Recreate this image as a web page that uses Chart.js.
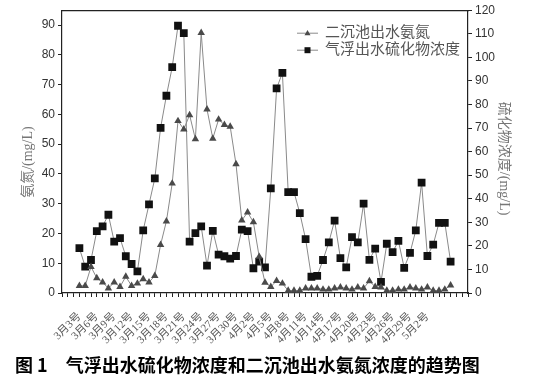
<!DOCTYPE html>
<html><head><meta charset="utf-8">
<script src="https://cdn.jsdelivr.net/npm/chart.js@4/dist/chart.umd.min.js"></script>
<style>
html,body{margin:0;padding:0;background:#fff;}
#wrap{position:relative;width:539px;height:381px;overflow:hidden;}
#c{position:absolute;left:0;top:0;}
#cap{position:absolute;left:15px;top:352px;font:bold 18px "Noto Sans CJK SC";color:#000;white-space:pre;line-height:24px;}
</style></head><body>
<div id="wrap"><canvas id="c" width="539" height="381"></canvas><div id="cap">图 1　气浮出水硫化物浓度和二沉池出水氨氮浓度的趋势图</div></div>
<script>
// x tick labels, one every 3 days starting at day index 0
const tickLabels = ['3月3号','3月6号','3月9号','3月12号','3月15号','3月18号','3月21号','3月24号','3月27号','3月30号','4月2号','4月5号','4月8号','4月11号','4月14号','4月17号','4月20号','4月23号','4月26号','4月29号','5月2号'];
const seriesNames = ['二沉池出水氨氮','气浮出水硫化物浓度'];
// 二沉池出水氨氮 (mg/L), left axis
const ammonia = [2.4,2.4,8.8,5.0,3.6,1.6,3.6,2.1,5.5,2.4,3.2,4.7,3.6,5.8,16.2,24.1,36.8,57.8,55.0,59.8,51.7,87.4,61.7,51.9,58.3,56.5,55.9,43.3,24.4,27.1,23.8,12.2,3.5,2.1,4.1,3.2,0.8,0.8,0.8,1.6,1.6,1.6,1.2,1.2,1.6,1.9,1.6,1.2,1.9,1.6,4.0,2.1,1.9,0.8,0.8,1.2,1.2,1.9,1.6,1.2,1.9,0.8,0.8,1.2,2.6];
// 气浮出水硫化物浓度 (mg/L), right axis
const sulfide = [19.0,11.2,14.0,26.3,28.3,33.2,21.8,23.3,15.6,12.3,9.2,26.6,37.6,48.6,70.1,83.7,95.8,113.4,110.3,21.8,25.4,28.3,11.6,26.4,16.3,15.6,14.6,15.7,26.9,26.3,10.5,13.3,10.9,44.4,86.8,93.4,42.8,42.8,33.9,22.9,6.9,7.3,14.0,21.5,30.7,14.8,10.9,23.7,21.5,37.9,14.1,18.8,4.7,20.9,17.3,22.1,10.7,17.0,26.6,46.8,15.7,20.5,29.8,29.8,13.3];
const yLeftTitle = '氨氮/(mg/L)      ';
const yRightTitle = '    硫化物浓度/(mg/L)';

const serifCJK = '"Liberation Serif", "Noto Sans CJK SC"';
const axisColor = '#222';

const legendPlugin = {
  id: 'lineLegend',
  afterDraw(chart) {
    const {ctx, chartArea} = chart;
    const x0 = chartArea.left + 235, y0 = chartArea.top + 23, gap = 17;
    chart.data.datasets.forEach((ds, i) => {
      const y = y0 + i * gap;
      const cx = x0 + 10.5;
      ctx.save();
      ctx.strokeStyle = ds.borderColor; ctx.lineWidth = 1;
      ctx.beginPath(); ctx.moveTo(x0, y); ctx.lineTo(x0 + 21, y); ctx.stroke();
      ctx.fillStyle = ds.pointBackgroundColor;
      ctx.beginPath();
      if (ds.pointStyle === 'triangle') {
        ctx.moveTo(cx, y - 3.2); ctx.lineTo(cx + 3, y + 2); ctx.lineTo(cx - 3, y + 2); ctx.closePath();
      } else {
        ctx.rect(cx - 3, y - 3, 6, 6);
      }
      ctx.fill();
      ctx.fillStyle = '#555';
      ctx.font = '15px ' + serifCJK;
      ctx.textBaseline = 'middle';
      ctx.fillText(ds.label, x0 + 28, y);
      ctx.restore();
    });
  }
};

new Chart(document.getElementById('c'), {
  type: 'line',
  data: {
    datasets: [
      {
        label: seriesNames[0], yAxisID: 'y', xAxisID: 'x',
        data: ammonia.map((v, i) => ({x: i, y: v})),
        borderColor: '#8a8a8a', borderWidth: 1, tension: 0,
        pointStyle: 'triangle', pointRadius: 4.3, pointBorderWidth: 0,
        pointBackgroundColor: '#4a4a4a', pointBorderColor: '#4a4a4a'
      },
      {
        label: seriesNames[1], yAxisID: 'y1', xAxisID: 'x',
        data: sulfide.map((v, i) => ({x: i, y: v})),
        borderColor: '#8a8a8a', borderWidth: 1, tension: 0,
        pointStyle: 'rect', pointRadius: 5.5, pointBorderWidth: 0,
        pointBackgroundColor: '#111', pointBorderColor: '#111'
      }
    ]
  },
  options: {
    responsive: false, animation: false, devicePixelRatio: 1,
    layout: {padding: 0},
    plugins: {legend: {display: false}, tooltip: {enabled: false}},
    scales: {
      x: {
        type: 'linear', position: 'bottom', min: -3, max: 67,
        afterFit: s => { s.height = 88; },
        border: {display: true, color: axisColor, width: 1.2},
        grid: {drawOnChartArea: false, drawTicks: true, tickLength: 4, tickColor: axisColor, tickWidth: 1},
        ticks: {
          stepSize: 1, autoSkip: false, includeBounds: false, minRotation: 45, maxRotation: 45, padding: 13,
          color: '#555', font: {family: serifCJK, size: 11},
          callback: v => (v >= 0 && v % 3 === 0 && v / 3 < tickLabels.length) ? tickLabels[v / 3] : ''
        }
      },
      xTop: {
        type: 'linear', position: 'top', min: -3, max: 67,
        afterFit: s => { s.height = 10; },
        border: {display: true, color: axisColor, width: 1.2},
        grid: {display: false},
        ticks: {display: false}
      },
      y: {
        type: 'linear', position: 'left', min: 0, max: 95,
        afterFit: s => { s.width = 62; },
        border: {display: true, color: axisColor, width: 1.2},
        grid: {drawOnChartArea: false, tickLength: 4, tickColor: axisColor},
        ticks: {stepSize: 5, includeBounds: false, padding: 3, color: '#333', font: {family: '"Liberation Sans"', size: 12},
          callback: v => v % 10 === 0 ? v : ''},
        title: {display: true, text: yLeftTitle, color: '#777', font: {family: serifCJK, size: 14}, padding: {top: 20, bottom: 0}}
      },
      y1: {
        type: 'linear', position: 'right', min: 0, max: 120,
        afterFit: s => { s.width = 71; },
        border: {display: true, color: axisColor, width: 1.2},
        grid: {drawOnChartArea: false, tickLength: 4, tickColor: axisColor},
        ticks: {stepSize: 5, includeBounds: false, padding: 3, color: '#333', font: {family: '"Liberation Sans"', size: 12},
          callback: v => v % 10 === 0 ? v : ''},
        title: {display: true, text: yRightTitle, color: '#777', font: {family: serifCJK, size: 14}, padding: {top: 27, bottom: 0}}
      }
    }
  },
  plugins: [legendPlugin]
});
</script>
</body></html>
